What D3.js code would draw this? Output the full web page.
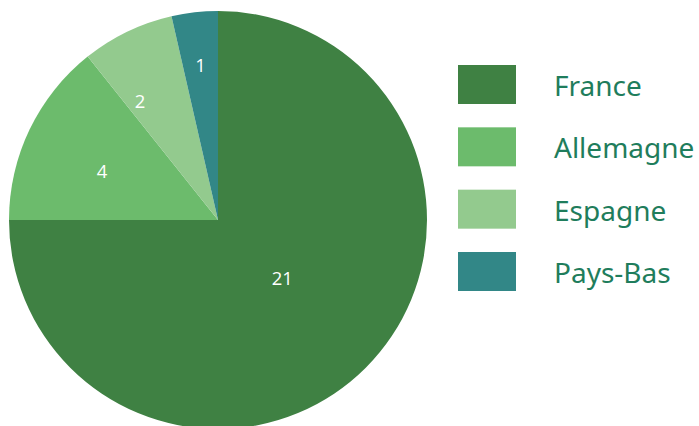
<!DOCTYPE html>
<html>
<head>
<meta charset="utf-8">
<script src="https://cdn.jsdelivr.net/npm/d3@7"></script>
<style>
  html, body { margin: 0; padding: 0; background: #fff; }
  svg { display: block; }
</style>
</head>
<body>
<svg id="chart" width="699" height="426"></svg>
<script>
// Répartition par pays
const countries = ["France", "Allemagne", "Espagne", "Pays-Bas"];
const counts = [21, 4, 2, 1];
const colors = ["#3f8143", "#6cbb6c", "#93ca8e", "#328787"];

const svg = d3.select("#chart");
const cx = 218, cy = 220, radius = 209;

const pie = d3.pie().sort(null).value(d => d.value);
const arcs = pie(countries.map((c, i) => ({ name: c, value: counts[i], color: colors[i] })));
const arc = d3.arc().innerRadius(0).outerRadius(radius);

const g = svg.append("g").attr("transform", `translate(${cx},${cy})`);

g.selectAll("path.slice")
  .data(arcs)
  .enter().append("path")
  .attr("class", "slice")
  .attr("d", arc)
  .attr("fill", d => d.data.color);

// value labels: per-slice distance from centre and small angular shift
const labelLayout = {
  "France":    { r: 86,  shift: -3.3 },
  "Allemagne": { r: 126, shift: -2.7 },
  "Espagne":   { r: 143, shift: -7.3 },
  "Pays-Bas":  { r: 156, shift: 0 }
};

g.selectAll("text.value")
  .data(arcs)
  .enter().append("text")
  .attr("class", "value")
  .attr("transform", d => {
    const L = labelLayout[d.data.name];
    const a = (d.startAngle + d.endAngle) / 2 + L.shift * Math.PI / 180;
    return `translate(${Math.sin(a) * L.r},${-Math.cos(a) * L.r})`;
  })
  .attr("text-anchor", "middle")
  .attr("dominant-baseline", "central")
  .attr("fill", "#ffffff")
  .style("font-family", "'Open Sans', 'Noto Sans', sans-serif")
  .style("font-size", "18.5px")
  .text(d => d.data.value);

// legend
const legendY = d3.scalePoint().domain(countries).range([65, 252]);
const legend = svg.append("g");
const items = legend.selectAll("g.item")
  .data(countries)
  .enter().append("g")
  .attr("class", "item")
  .attr("transform", d => `translate(458,${legendY(d)})`);

items.append("rect")
  .attr("width", 58)
  .attr("height", 39)
  .attr("fill", (d, i) => colors[i]);

items.append("text")
  .attr("x", 96)
  .attr("y", 20)
  .attr("dominant-baseline", "central")
  .attr("fill", "#1f7d5c")
  .style("font-family", "'Noto Sans', 'Open Sans', sans-serif")
  .style("font-size", "28px")
  .text(d => d);
</script>
</body>
</html>
